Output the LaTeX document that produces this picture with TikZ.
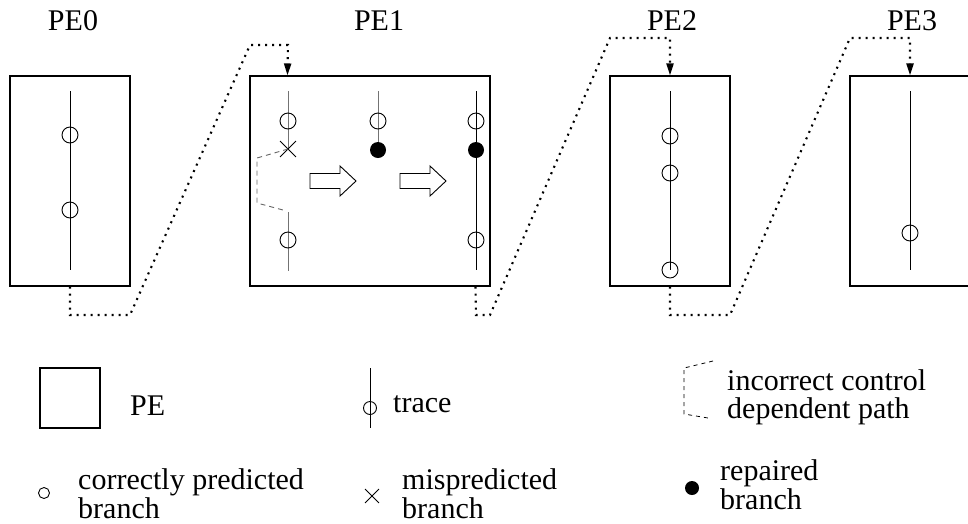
\documentclass[tikz,border=0pt]{standalone}
\usepackage{fontspec}
\setmainfont{Liberation Serif}
\usetikzlibrary{arrows.meta,shapes.misc,calc}

\begin{document}
\begin{tikzpicture}[x=1pt,y=-1pt,
  pebox/.style={draw,line width=1.1pt,inner sep=0pt,minimum width=#1,minimum height=210pt},
  brc/.style={circle,draw,line width=0.9pt,inner sep=0pt,minimum size=#1},
  rep/.style={circle,fill=black,inner sep=0pt,minimum size=#1},
  mis/.style={cross out,draw,line width=0.9pt,inner sep=0pt,minimum size=#1},
  trc/.style={line width=1pt},
  trcg/.style={line width=1pt,black!55},
  flow/.style={line width=2.1pt,dash pattern=on 2pt off 5pt},
  tip/.style={-{Triangle[length=12pt,width=7pt]}},
  wrong/.style={line width=0.9pt,black!60,dash pattern=on 5pt off 4pt},
  hollow/.style={line width=0.9pt,fill=white},
  lbl/.style={font=\fontsize{30}{30}\selectfont,inner sep=0pt},
]
\clip (0,0) rectangle (968,523);

% processing elements
\node[pebox=120pt] (pe0) at (70,181) {};
\node[pebox=240pt] (pe1) at (370,181) {};
\node[pebox=120pt] (pe2) at (670,181) {};
\node[pebox=120pt] (pe3) at (910,181) {};

\node[lbl,anchor=base] (n0) at (73,30) {PE0};
\node[lbl,anchor=base] (n1) at (379,30) {PE1};
\node[lbl,anchor=base] (n2) at (672,30) {PE2};
\node[lbl,anchor=base] (n3) at (912,30) {PE3};

% entry and exit points of the control flow on PE1
\coordinate (in1) at ($(pe1.north west)+(38,0)$);
\coordinate (out1) at ($(pe1.south west)+(226,0)$);

% PE0 trace
\draw[trc] (70,91) -- (70,270);
\node[brc=16pt] (a1) at (70,135) {};
\node[brc=16pt] (a2) at (70,210) {};

% PE1: mispredicted trace
\draw[trcg] (288,91) -- (288,149);
\draw[trcg] (288,212) -- (288,271);
\node[brc=16pt] (b1) at (288,121) {};
\node[mis=15pt] (bx) at (288,149) {};
\node[brc=16pt] (b2) at (288,240) {};
\draw[wrong] (bx.center) -- (257,158) -- (257,203) -- (283,210);

% PE1: repaired branch
\draw[trcg] (378,91) -- (378,150);
\node[brc=16pt] (c1) at (378,121) {};
\node[rep=16pt] (c2) at (378,150) {};

% PE1: reconnected trace
\draw[trc] (476,91) -- (476,270);
\node[brc=16pt] (d1) at (476,121) {};
\node[rep=16pt] (d2) at (476,150) {};
\node[brc=16pt] (d3) at (476,240) {};

% step arrows
\draw[hollow] (310,173.5) -- (340,173.5) -- (340,166) -- (356,181) -- (340,196) -- (340,188.5) -- (310,188.5) -- cycle;
\draw[hollow] (400,173.5) -- (430,173.5) -- (430,166) -- (446,181) -- (430,196) -- (430,188.5) -- (400,188.5) -- cycle;

% PE2 trace
\draw[trc] (670,91) -- (670,270);
\node[brc=16pt] (e1) at (670,136) {};
\node[brc=16pt] (e2) at (670,173) {};
\node[brc=16pt] (e3) at (670,270) {};

% PE3 trace
\draw[trc] (910,91) -- (910,270);
\node[brc=16pt] (f1) at (910,233) {};

% control flow between PEs
\draw[flow,tip] (pe0.south) -- (70,315) -- (130,315) -- (250,45) -- (288,45) -- (in1);
\draw[flow,tip] (out1) -- (476,315) -- (490,315) -- (610,38) -- (670,38) -- (pe2.north);
\draw[flow,tip] (pe2.south) -- (670,315) -- (730,315) -- (850,38) -- (910,38) -- (pe3.north);

% legend
\node[draw,line width=1.1pt,inner sep=0pt,minimum width=60pt,minimum height=60pt] (lg1) at (70,398) {};
\node[lbl,anchor=base west] (lt1) at (130,415) {PE};

\draw[trc] (370,368) -- (370,428);
\node[brc=13pt] (lg2) at (370,408) {};
\node[lbl,anchor=base west] (lt2) at (393,412) {trace};

\draw[line width=0.8pt,dash pattern=on 4pt off 4pt] (713,361) -- (684,368) -- (684,414) -- (708,418);
\node[lbl,anchor=base west] (lt3a) at (727,390) {incorrect control};
\node[lbl,anchor=base west] (lt3b) at (727,418) {dependent path};

\node[brc=11pt] (lg4) at (44,493) {};
\node[lbl,anchor=base west] (lt4a) at (78,489) {correctly predicted};
\node[lbl,anchor=base west] (lt4b) at (78,518) {branch};

\node[mis=13pt] (lg5) at (372,496) {};
\node[lbl,anchor=base west] (lt5a) at (402,489) {mispredicted};
\node[lbl,anchor=base west] (lt5b) at (402,518) {branch};

\node[rep=14pt] (lg6) at (692,488) {};
\node[lbl,anchor=base west] (lt6a) at (720,480) {repaired};
\node[lbl,anchor=base west] (lt6b) at (720,509) {branch};
\end{tikzpicture}
\end{document}
